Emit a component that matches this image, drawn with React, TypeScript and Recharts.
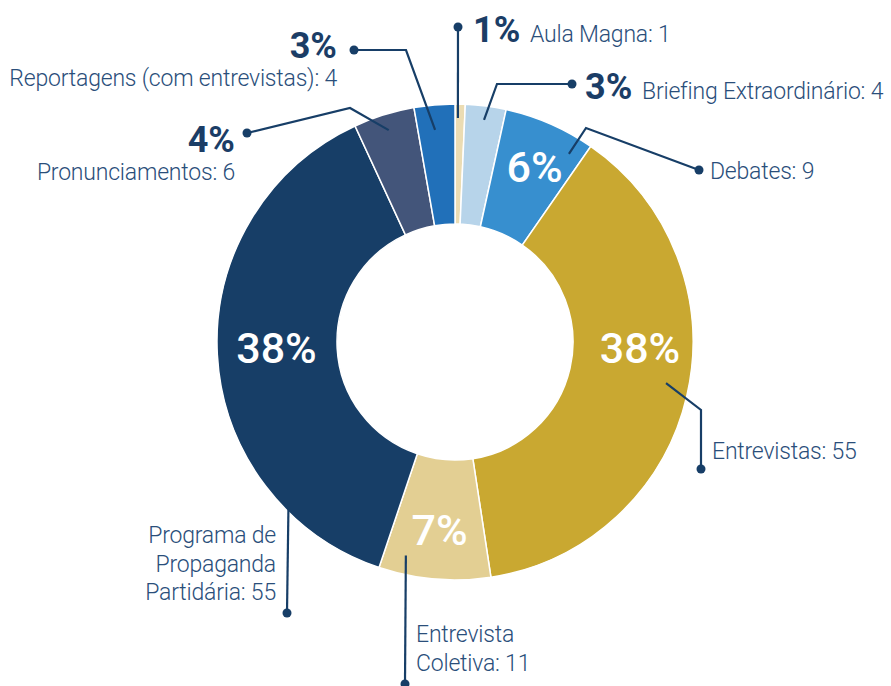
import { PieChart, Pie, Cell } from 'recharts'

// categories (split where the reference wraps the label)
const categoryLines = [
  ['Aula Magna'],
  ['Briefing Extraordinário'],
  ['Debates'],
  ['Entrevistas'],
  ['Entrevista', 'Coletiva'],
  ['Programa de', 'Propaganda', 'Partidária'],
  ['Pronunciamentos'],
  ['Reportagens (com entrevistas)'],
]
const counts = [1, 4, 9, 55, 11, 55, 6, 4]
const percentLabels = ['1%', '3%', '6%', '38%', '7%', '38%', '4%', '3%']
const colors = ['#ebdcb3', '#b7d4ea', '#378fcf', '#c9a831', '#e3cf93', '#173e67', '#43557a', '#2170b9']

const data = categoryLines.map((lines, i) => ({
  name: lines.join(' '),
  lines,
  value: counts[i],
}))

const CX = 455
const CY = 342
const LINE = '#173e67'
const TEXT = '#2a4e7a'
const FONT = 'Roboto, "Noto Sans", sans-serif'

type Anchor = 'start' | 'middle' | 'end'
interface LabelLayout {
  shift: number // deg, moves the leader start along the ring
  r: number
  pts: [number, number][] // elbow(s) and dot, relative to the centre
  pct: { dx: number; dy: number; anchor: Anchor; inside: boolean }
  text: { dx: number; dy: number; anchor: Anchor }
}

// annotation placement, relative to the pie centre
const layout: LabelLayout[] = [
  { shift: -0.5, r: 224, pts: [[3, -315]], pct: { dx: 18, dy: -300, anchor: 'start', inside: false }, text: { dx: 75, dy: -300, anchor: 'start' } },
  { shift: 0, r: 224, pts: [[42, -258], [117, -258]], pct: { dx: 130, dy: -243, anchor: 'start', inside: false }, text: { dx: 187, dy: -243, anchor: 'start' } },
  { shift: 7.6, r: 220, pts: [[131, -214], [244, -172]], pct: { dx: 79.5, dy: -160, anchor: 'middle', inside: true }, text: { dx: 255, dy: -163, anchor: 'start' } },
  { shift: -2, r: 215, pts: [[246, 68], [246, 127]], pct: { dx: 185, dy: 21, anchor: 'middle', inside: true }, text: { dx: 257, dy: 117, anchor: 'start' } },
  { shift: 8, r: 219, pts: [[-50, 342]], pct: { dx: -15.5, dy: 203, anchor: 'middle', inside: true }, text: { dx: -39, dy: 300, anchor: 'start' } },
  { shift: -42, r: 236, pts: [[-168, 271]], pct: { dx: -178.5, dy: 21, anchor: 'middle', inside: true }, text: { dx: -179, dy: 201, anchor: 'end' } },
  { shift: 0, r: 222, pts: [[-105, -234], [-208, -209]], pct: { dx: -220, dy: -190, anchor: 'end', inside: false }, text: { dx: -220, dy: -162, anchor: 'end' } },
  { shift: -0.4, r: 213, pts: [[-49, -292], [-101, -292]], pct: { dx: -118, dy: -284, anchor: 'end', inside: false }, text: { dx: -118, dy: -256, anchor: 'end' } },
]

const renderLabel = (props: any) => {
  const { midAngle, index } = props
  const cx = Number(props.cx ?? CX)
  const cy = Number(props.cy ?? CY)
  const l = layout[index]
  const d = data[index]
  // recharts angle -> clockwise from top
  const phi = ((90 - midAngle + l.shift) * Math.PI) / 180
  const sx = cx + l.r * Math.sin(phi)
  const sy = cy - l.r * Math.cos(phi)
  const pts = [[sx, sy], ...l.pts.map(([x, y]) => [cx + x, cy + y])]
  const dot = pts[pts.length - 1]
  const lines = d.lines.map((t, k) => (k === d.lines.length - 1 ? `${t}: ${d.value}` : t))
  const lineGap = 28.5

  return (
    <g key={`lbl-${index}`}>
      <polyline
        points={pts.map((p) => p.join(',')).join(' ')}
        fill="none"
        stroke={LINE}
        strokeWidth={2.2}
      />
      <circle cx={dot[0]} cy={dot[1]} r={4.5} fill={LINE} />
      <text
        x={cx + l.pct.dx}
        y={cy + l.pct.dy}
        textAnchor={l.pct.anchor}
        fontFamily={FONT}
        fontSize={l.pct.inside ? 43 : 36}
        fontWeight={l.pct.inside ? 500 : 700}
        fill={l.pct.inside ? '#ffffff' : '#1b3d66'}
      >
        {percentLabels[index]}
      </text>
      <text
        x={cx + l.text.dx}
        y={cy + l.text.dy}
        textAnchor={l.text.anchor}
        fontFamily={FONT}
        fontSize={23}
        fontWeight={300}
        letterSpacing={-0.2}
        fill={TEXT}
      >
        {lines.map((t, k) => (
          <tspan key={k} x={cx + l.text.dx} y={cy + l.text.dy + k * lineGap}>
            {t}
          </tspan>
        ))}
      </text>
    </g>
  )
}

export default function App() {
  return (
    <div style={{ position: 'absolute', left: 0, top: 0, width: 891, height: 686, background: '#fff' }}>
      <PieChart width={891} height={686} margin={{ top: 0, right: 0, bottom: 0, left: 0 }}>
        <Pie
          data={data}
          dataKey="value"
          nameKey="name"
          cx={CX}
          cy={CY}
          innerRadius={118}
          outerRadius={238}
          startAngle={90}
          endAngle={-270}
          stroke="#ffffff"
          strokeWidth={1.5}
          label={renderLabel}
          labelLine={false}
          isAnimationActive={false}
        >
          {data.map((_, i) => (
            <Cell key={i} fill={colors[i]} />
          ))}
        </Pie>
      </PieChart>
    </div>
  )
}
